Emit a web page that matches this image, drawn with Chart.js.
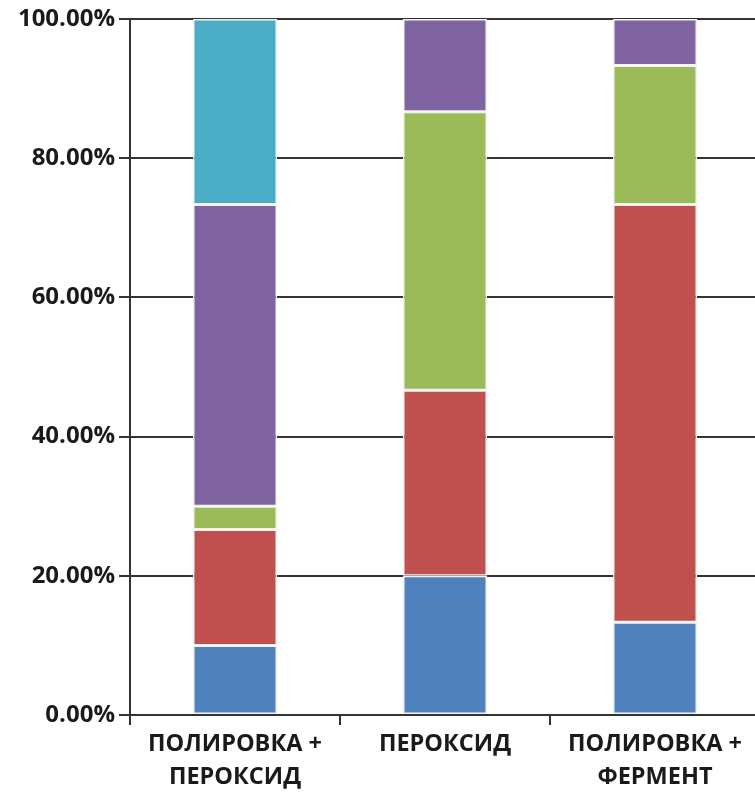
<!DOCTYPE html>
<html><head><meta charset="utf-8">
<script src="https://cdn.jsdelivr.net/npm/chart.js@4/dist/chart.umd.min.js"></script>
<style>html,body{margin:0;padding:0;background:#fff;overflow:hidden;width:755px;height:792px}
#wrap{width:770px;height:792px;position:relative}</style>
</head><body><div id="wrap"><canvas id="c" width="770" height="792"></canvas></div>
<script>
const categories = [['ПОЛИРОВКА +','ПЕРОКСИД'], ['ПЕРОКСИД'], ['ПОЛИРОВКА +','ФЕРМЕНТ']];
const seriesBlue   = [10, 20, 13.33];
const seriesRed    = [16.67, 26.67, 60];
const seriesGreen  = [3.33, 40, 20];
const seriesPurple = [43.33, 13.33, 6.67];
const seriesCyan   = [26.67, 0, 0];
const yTicks = [0, 20, 40, 60, 80, 100];

const mk = (data, color) => ({data, backgroundColor: color, borderColor: '#f2f2f2', borderWidth: 1.5, borderSkipped: false, barPercentage: 0.4, categoryPercentage: 1});
const fontY = {family: '"Open Sans", sans-serif', size: 24, weight: 'bold'};
const fontX = {family: '"Open Sans", sans-serif', size: 23.5, weight: 'bold', lineHeight: 1.4};
new Chart(document.getElementById('c'), {
  type: 'bar',
  data: {labels: categories, datasets: [
    mk(seriesBlue, '#4F81BD'), mk(seriesRed, '#C0504D'), mk(seriesGreen, '#9BBB59'),
    mk(seriesPurple, '#8064A2'), mk(seriesCyan, '#4BACC6')]},
  options: {
    responsive: false, animation: false,
    layout: {padding: {top: 19, right: 10, left: 0, bottom: 0}},
    plugins: {legend: {display: false}, tooltip: {enabled: false}},
    scales: {
      x: {stacked: true,
        grid: {drawOnChartArea: false, drawTicks: true, tickLength: 10, color: '#333', lineWidth: 2, offset: true},
        border: {display: true, color: '#333', width: 2},
        ticks: {color: '#1a1a1a', font: fontX, padding: 3, maxRotation: 0, autoSkip: false},
        afterFit: s => { s.height = 77; }
      },
      y: {stacked: true, min: 0, max: 100,
        afterBuildTicks: s => { s.ticks = yTicks.map(v => ({value: v})); },
        grid: {color: '#333', lineWidth: 2, tickLength: 11, drawTicks: true},
        border: {display: true, color: '#333', width: 2},
        ticks: {color: '#1a1a1a', font: fontY, padding: 4, callback: v => v.toFixed(2) + '%'},
        afterFit: s => { s.width = 130; }
      }
    }
  }
});
</script></body></html>
